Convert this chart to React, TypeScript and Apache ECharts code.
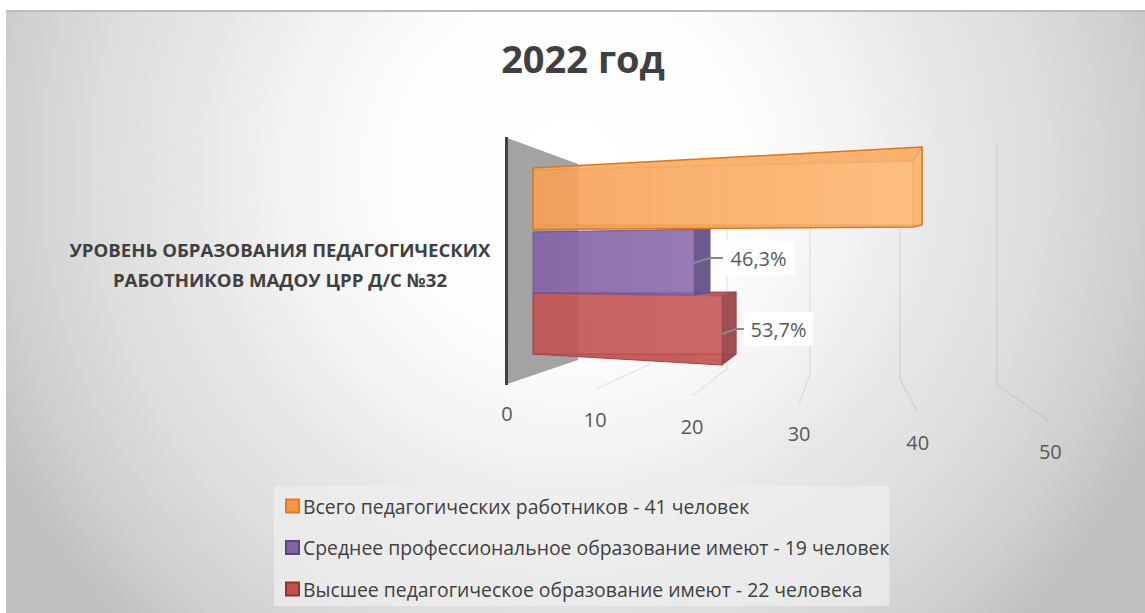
import React, { useEffect, useRef } from "react";
import * as echarts from "echarts";

const titleText = "2022 год";
const categoryLabel = "УРОВЕНЬ ОБРАЗОВАНИЯ ПЕДАГОГИЧЕСКИХ\nРАБОТНИКОВ МАДОУ ЦРР Д/С №32";
const categories = [categoryLabel];
const tickValues = [0, 10, 20, 30, 40, 50];
const seriesNames = [
  "Всего педагогических работников - 41 человек",
  "Среднее профессиональное образование имеют - 19 человек",
  "Высшее педагогическое образование имеют - 22 человека",
];
const totalValues = [41];
const secondaryValues = [19];
const higherValues = [22];
const secondaryLabels = ["46,3%"];
const higherLabels = ["53,7%"];

const FONT = '"Open Sans", sans-serif';
const GRID_LEFT = 533;
const PX_PER_UNIT = 10;

// perspective of the value axis
const unit = (px: number) => (px - GRID_LEFT) / PX_PER_UNIT;
const frontX = (v: number) => (6.14 * v + 507) / (1 - 0.0045 * v);
const frontY = (v: number) => (383 - 1.12 * v) / (1 - 0.0045 * v);
const backX = (v: number) => (4.95 * v + 578) / (1 - 0.00344 * v);
const floorY = (v: number) => (360 - 0.824 * v) / (1 - 0.00344 * v);
const ceilY = (v: number) => (164 - 0.93 * v) / (1 - 0.00344 * v);

const poly = (points: number[][], fill: any, stroke?: string, lineWidth = 1) => ({
  type: "polygon",
  shape: { points },
  style: { fill, stroke: stroke || "none", lineWidth },
});
const grad = (a: string, b: string) =>
  new echarts.graphic.LinearGradient(0, 0, 1, 0, [
    { offset: 0, color: a },
    { offset: 1, color: b },
  ]);

function renderTick(_p: any, api: any) {
  const v = unit(api.coord([api.value(0), 0])[0]);
  const children: any[] = [];
  if (v === 0) {
    children.push(poly([[507, 138], [backX(0), ceilY(0)], [backX(0), floorY(0)], [507, 384]], "#a3a3a3"));
    children.push({
      type: "line",
      shape: { x1: 506.5, y1: 137, x2: 506.5, y2: 385 },
      style: { stroke: "#404040", lineWidth: 3 },
    });
  } else {
    const gridStroke = { stroke: "rgba(120,120,120,0.14)", lineWidth: 1.5, fill: "none" };
    children.push({
      type: "polyline",
      shape: { points: [[backX(v), ceilY(v)], [backX(v), floorY(v)], [frontX(v), frontY(v)]] },
      style: gridStroke,
    });
  }
  children.push({
    type: "text",
    style: {
      text: String(api.value(0)),
      x: frontX(v),
      y: frontY(v) + 30,
      align: "center",
      verticalAlign: "middle",
      font: `20px ${FONT}`,
      fill: "#595959",
    },
  });
  return { type: "group", children };
}

type Box = {
  fTop: number[]; fBot: number[]; bTop: number[]; bBot: number; scaleF: number; scaleB: number;
  front: any; side: string; top: string; bottom: string; edge: string; inner: string; outline: number;
  label?: { dx: number; y: number; w: number };
};

const makeBar = (box: Box, labels?: string[]) => (_p: any, api: any) => {
  const px = api.coord([api.value(0), 0])[0] - GRID_LEFT;
  const xF = GRID_LEFT + px * box.scaleF;
  const xB = GRID_LEFT + px * box.scaleB;
  const L = GRID_LEFT;
  const children: any[] = [
    poly([[L, box.bBot], [xB, box.bBot], [xF, box.fBot[1]], [L, box.fBot[0]]], box.bottom),
    poly([[L, box.bTop[0]], [xB, box.bTop[1]], [xF, box.fTop[1]], [L, box.fTop[0]]], box.top),
    poly([[xF, box.fTop[1]], [xB, box.bTop[1]], [xB, box.bBot], [xF, box.fBot[1]]], box.side),
    poly([[L, box.fTop[0]], [xF, box.fTop[1]], [xF, box.fBot[1]], [L, box.fBot[0]]], box.front),
    {
      type: "polyline",
      shape: { points: [[L, box.fTop[0]], [xF, box.fTop[1]], [xB, box.bTop[1]], [xF, box.fTop[1]], [xF, box.fBot[1]]] },
      style: { stroke: box.inner, lineWidth: 1, fill: "none" },
    },
    {
      type: "polyline",
      shape: { points: [[L, box.bTop[0]], [xB, box.bTop[1]], [xB, box.bBot], [xF, box.fBot[1]], [L, box.fBot[0]], [L, box.bTop[0]]] },
      style: { stroke: box.edge, lineWidth: box.outline, fill: "none" },
    },
    {
      type: "line",
      shape: { x1: L, y1: box.bBot, x2: xB, y2: box.bBot },
      style: { stroke: box.inner, lineWidth: 1 },
    },
  ];
  if (labels && box.label) {
    const { dx, y, w } = box.label;
    const bx = xB + dx;
    children.push({
      type: "polyline",
      shape: { points: [[xF, y + 22], [xB, y + 17], [bx, y + 17]] },
      style: { stroke: "#8a8a8a", lineWidth: 2, fill: "none" },
    });
    children.push({ type: "rect", shape: { x: bx, y, width: w, height: 34 }, style: { fill: "#ffffff" } });
    children.push({
      type: "text",
      style: {
        text: labels[0],
        x: bx + w / 2,
        y: y + 17,
        align: "center",
        verticalAlign: "middle",
        font: `20px ${FONT}`,
        fill: "#595959",
      },
    });
  }
  return { type: "group", children };
};

const orangeBox: Box = {
  fTop: [170, 161], fBot: [229.5, 227], bTop: [168, 147], bBot: 225, scaleF: 0.927, scaleB: 0.949,
  front: grad("rgba(247,160,84,0.9)", "rgba(253,188,122,0.95)"),
  side: "rgba(252,182,110,0.95)", top: "rgba(250,170,95,0.9)", bottom: "#c9701f", edge: "#d9781f",
  inner: "rgba(225,140,60,0.45)", outline: 1.5,
};
const purpleBox: Box = {
  fTop: [232, 230], fBot: [293, 295], bTop: [232, 229], bBot: 293, scaleF: 0.847, scaleB: 0.932,
  front: grad("rgba(130,100,165,0.92)", "rgba(146,116,176,0.95)"),
  side: "rgba(98,82,135,0.95)", top: "rgba(112,90,150,0.9)", bottom: "rgba(98,82,135,0.9)", edge: "rgba(106,85,144,0.85)",
  inner: "rgba(106,85,144,0.5)", outline: 1,
};
purpleBox.label = { dx: 13, y: 241, w: 71 };
const redBox: Box = {
  fTop: [293, 296], fBot: [354, 365], bTop: [293, 292], bBot: 354, scaleF: 0.859, scaleB: 0.923,
  front: grad("rgba(194,84,84,0.92)", "rgba(200,96,94,0.95)"),
  side: "rgba(152,72,76,0.95)", top: "rgba(170,76,78,0.9)", bottom: "rgba(212,100,100,0.9)", edge: "rgba(165,62,66,0.95)",
  inner: "rgba(165,62,66,0.6)", outline: 1.2,
};
redBox.label = { dx: 8, y: 312, w: 69 };

const legendColors = ["#f79646", "#8064a2", "#c0504d"];
const legendBorders = ["#e07d22", "#5c4776", "#8e3532"];

export default function App() {
  const ref = useRef<HTMLDivElement>(null);
  useEffect(() => {
    document.body.style.margin = "0";
    const chart = echarts.init(ref.current!, null, { renderer: "svg" });
    const bar = (name: string, values: number[], box: Box, labels: string[] | undefined, i: number) => ({
      type: "custom",
      name,
      silent: true,
      clip: false,
      coordinateSystem: "cartesian2d",
      itemStyle: { color: legendColors[i], borderColor: legendBorders[i], borderWidth: 1.5 },
      encode: { x: 0, y: 1 },
      data: values.map((v) => [v, 0]),
      renderItem: makeBar(box, labels),
    });
    chart.setOption({
      animation: false,
      graphic: [
        {
          type: "rect",
          z: -10,
          silent: true,
          shape: { x: 6, y: 11, width: 1139, height: 602 },
          style: {
            fill: new echarts.graphic.RadialGradient(
              570,
              170,
              640,
              [
                { offset: 0, color: "#ffffff" },
                { offset: 0.28, color: "#fdfdfd" },
                { offset: 0.455, color: "#f2f2f2" },
                { offset: 0.575, color: "#e8e8e8" },
                { offset: 0.74, color: "#dddddd" },
                { offset: 0.89, color: "#cfcfcf" },
                { offset: 1, color: "#c0c0c0" },
              ],
              true
            ),
          },
        },
        {
          type: "rect",
          z: -9,
          silent: true,
          shape: { x: 6, y: 10, width: 1139, height: 2 },
          style: { fill: "#bcbcbc" },
        },
      ],
      title: {
        text: titleText,
        left: 578,
        top: 53,
        textAlign: "center",
        textVerticalAlign: "middle",
        textStyle: { fontFamily: FONT, fontSize: 38, fontWeight: "bold", color: "#404040" },
      },
      grid: { left: GRID_LEFT, top: 139, width: 500, height: 250, containLabel: false },
      xAxis: { type: "value", min: 0, max: 50, show: false, splitLine: { show: false } },
      yAxis: {
        type: "category",
        data: categories,
        axisLine: { show: false },
        axisTick: { show: false },
        axisLabel: {
          align: "center",
          margin: 253,
          fontFamily: FONT,
          fontSize: 18.6,
          fontWeight: "bold",
          lineHeight: 30,
          color: "#404040",
        },
      },
      legend: {
        orient: "vertical",
        left: 274,
        top: 486,
        padding: [9, 0, 6, 11],
        backgroundColor: "rgba(238,238,238,0.75)",
        itemWidth: 13,
        itemHeight: 13,
        itemGap: 19.5,
        icon: "rect",
        data: seriesNames,
        selectedMode: false,
        textStyle: { fontFamily: FONT, fontSize: 19.4, color: "#404040", padding: [0, 0, 0, -1], lineHeight: 22 },
      },
      series: [
        {
          type: "custom",
          silent: true,
          clip: false,
          coordinateSystem: "cartesian2d",
          encode: { x: 0, y: 1 },
          data: tickValues.map((t) => [t, 0]),
          renderItem: renderTick,
        },
        bar(seriesNames[2], higherValues, redBox, higherLabels, 2),
        bar(seriesNames[1], secondaryValues, purpleBox, secondaryLabels, 1),
        bar(seriesNames[0], totalValues, orangeBox, undefined, 0),
      ],
    });
    return () => chart.dispose();
  }, []);
  return <div ref={ref} style={{ width: 1145, height: 613 }} />;
}
